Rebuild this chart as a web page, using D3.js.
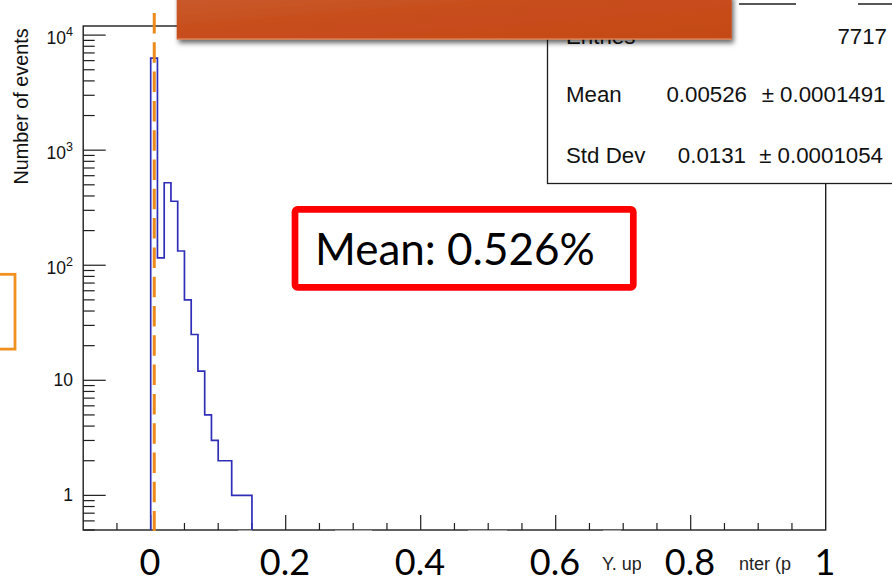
<!DOCTYPE html>
<html>
<head>
<meta charset="utf-8">
<script src="https://cdn.jsdelivr.net/npm/d3@7"></script>
<style>
  html, body { margin: 0; padding: 0; background: #fff; }
  svg { display: block; }
</style>
</head>
<body>
<svg id="chart" width="892" height="583"></svg>
<script>
// Histogram bins (lower/upper edges) and counts
const binEdges = [0, 0.01, 0.02, 0.03, 0.04, 0.05, 0.06, 0.07, 0.08, 0.09, 0.10, 0.11, 0.12, 0.13, 0.14, 0.15];
const binCounts = [6300, 116, 521, 360, 133, 50, 25, 12, 5, 3, 2, 2, 1, 1, 1];

// Statistics box
const statLabels = ["Entries", "Mean", "Std Dev"];
const statValues = ["7717", "0.00526", "0.0131"];
const statErrors = ["", "\u00b1 0.0001491", "\u00b1 0.0001054"];
const meanValue = 0.00526;
const meanText = "Mean: 0.526%";

// Axes
const xDomain = [-0.1, 1.0];
const yDomain = [0.5, 12000];
const xTickValues = [0, 0.2, 0.4, 0.6, 0.8, 1];
const xTickLabels = ["0", "0.2", "0.4", "0.6", "0.8", "1"];
const yDecades = [1, 10, 100, 1000, 10000];
const yTitle = "Number of events";
const xTitleParts = ["Y. up", "nter (p"];

const svg = d3.select("#chart");
const frame = { left: 83.2, right: 825.7, top: 26, bottom: 530 };

const x = d3.scaleLinear().domain(xDomain).range([frame.left, frame.right]);
const y = d3.scaleLog().domain(yDomain).range([frame.bottom, frame.top]);

const rootFont = "'Liberation Sans', Arial, Helvetica, sans-serif";
const slideFont = "Lato, 'Open Sans', sans-serif";
const axisColor = "#1e1e1e";

const defs = svg.append("defs");
const grad = defs.append("linearGradient").attr("id", "bannerFill")
  .attr("x1", "0%").attr("x2", "100%").attr("y1", "0%").attr("y2", "100%");
grad.append("stop").attr("offset", "0%").attr("stop-color", "#c85b2d");
grad.append("stop").attr("offset", "45%").attr("stop-color", "#c84d1b");
grad.append("stop").attr("offset", "100%").attr("stop-color", "#c44a17");
const shadow = defs.append("filter").attr("id", "bannerShadow")
  .attr("x", "-10%").attr("y", "-50%").attr("width", "130%").attr("height", "250%");
shadow.append("feDropShadow").attr("dx", 2).attr("dy", 3.5)
  .attr("stdDeviation", 2.6).attr("flood-color", "#000").attr("flood-opacity", 0.6);

// ---- frame ----
const g = svg.append("g");
g.append("rect")
  .attr("x", frame.left).attr("y", frame.top)
  .attr("width", frame.right - frame.left).attr("height", frame.bottom - frame.top)
  .attr("fill", "none").attr("stroke", axisColor).attr("stroke-width", 1.4);

// ---- x axis ticks (major every 0.2, minor every 0.05) ----
const xMinor = d3.range(-0.05, 1.0, 0.05).map(v => +v.toFixed(2));
g.append("g").selectAll("line").data(xMinor).join("line")
  .attr("x1", d => x(d)).attr("x2", d => x(d))
  .attr("y1", frame.bottom)
  .attr("y2", d => frame.bottom - (Math.abs(d / 0.2 - Math.round(d / 0.2)) < 1e-6 ? 15 : 7))
  .attr("stroke", axisColor).attr("stroke-width", 1.2);

// ---- y axis ticks (log) ----
const yMinor = [];
[0.1, 1, 10, 100, 1000].forEach(dec => {
  for (let k = 2; k <= 9; k++) {
    const v = dec * k;
    if (v >= yDomain[0] && v <= yDomain[1]) yMinor.push(v);
  }
});
g.append("g").selectAll("line").data(yMinor).join("line")
  .attr("x1", frame.left).attr("x2", frame.left + 11.5)
  .attr("y1", d => y(d)).attr("y2", d => y(d))
  .attr("stroke", axisColor).attr("stroke-width", 1.2);
g.append("g").selectAll("line").data(yDecades).join("line")
  .attr("x1", frame.left).attr("x2", frame.left + 22.5)
  .attr("y1", d => y(d)).attr("y2", d => y(d))
  .attr("stroke", axisColor).attr("stroke-width", 1.2);

// y tick labels: 1, 10, 10^2 ...
const yLab = g.append("g").attr("font-family", rootFont).attr("fill", "#111");
yDecades.forEach(v => {
  const e = Math.round(Math.log10(v));
  const t = yLab.append("text")
    .attr("x", 73).attr("y", y(v) + (e >= 2 ? 9 : 6))
    .attr("text-anchor", "end").attr("font-size", 17.5);
  if (e === 0) t.text("1");
  else if (e === 1) t.text("10");
  else {
    t.append("tspan").text("10");
    t.append("tspan").attr("dy", -8).attr("font-size", 12.5).text(String(e));
  }
});

// y title
g.append("text")
  .attr("transform", `translate(28,106.5) rotate(-90)`)
  .attr("text-anchor", "middle")
  .attr("font-family", rootFont).attr("font-size", 19.8).attr("fill", "#111")
  .text(yTitle);

// ---- histogram outline ----
const pts = [[x(binEdges[0]), frame.bottom]];
binCounts.forEach((c, i) => {
  pts.push([x(binEdges[i]), y(c)]);
  pts.push([x(binEdges[i + 1]), y(c)]);
});
pts.push([x(binEdges[binEdges.length - 1]), frame.bottom]);
g.append("path")
  .attr("d", d3.line()(pts))
  .attr("fill", "none").attr("stroke", "#2e2eb8").attr("stroke-width", 1.7);

// ---- mean marker ----
g.append("line")
  .attr("x1", x(meanValue)).attr("x2", x(meanValue))
  .attr("y1", 13).attr("y2", 531)
  .attr("stroke", "#eb8a1a").attr("stroke-width", 3)
  .attr("stroke-dasharray", "20.5 8.8");

// ---- statistics box ----
const stats = svg.append("g").attr("font-family", rootFont).attr("font-size", 22.3).attr("fill", "#111");
stats.append("rect")
  .attr("x", 547.5).attr("y", -20).attr("width", 400).attr("height", 203.5)
  .attr("fill", "#fff").attr("stroke", axisColor).attr("stroke-width", 1.3);
[[739, 796], [858, 892]].forEach(([a, b]) => {
  stats.append("line").attr("x1", a).attr("x2", b).attr("y1", 4).attr("y2", 4)
    .attr("stroke", axisColor).attr("stroke-width", 1.3);
});
const statRowY = [43.5, 102, 162.5];
const statValueX = [887, 747, 746];
const statErrorX = [887, 885.5, 883];
statLabels.forEach((s, i) => {
  stats.append("text").attr("x", 566).attr("y", statRowY[i]).text(s);
  stats.append("text").attr("x", statValueX[i]).attr("y", statRowY[i])
    .attr("text-anchor", "end").text(statValues[i]);
  if (statErrors[i]) {
    stats.append("text").attr("x", statErrorX[i]).attr("y", statRowY[i])
      .attr("text-anchor", "end").text(statErrors[i]);
  }
});

// ---- banner ----
svg.append("rect")
  .attr("x", 176.7).attr("y", -6).attr("width", 555).attr("height", 45.5)
  .attr("fill", "url(#bannerFill)").attr("filter", "url(#bannerShadow)");
svg.append("line")
  .attr("x1", 177).attr("x2", 731.5).attr("y1", 39).attr("y2", 39)
  .attr("stroke", "#e59a72").attr("stroke-width", 1);

// ---- left highlight frame ----
svg.append("rect")
  .attr("x", -20).attr("y", 274.3).attr("width", 35).attr("height", 74.8)
  .attr("fill", "none").attr("stroke", "#ef901f").attr("stroke-width", 2.8);

// ---- mean callout ----
svg.append("rect")
  .attr("x", 295).attr("y", 209.4).attr("width", 338.3).attr("height", 78)
  .attr("rx", 2.5)
  .attr("fill", "#fff").attr("stroke", "#ff0000").attr("stroke-width", 6.7);
svg.append("text")
  .attr("x", 315).attr("y", 264.5)
  .attr("font-family", slideFont).attr("font-size", 44).attr("fill", "#000")
  .text(meanText);

// ---- x axis: lightened stretches of the axis line, title fragments ----
[[238, 252], [335, 372], [468, 507], [603, 621]].forEach(([a, b]) => {
  svg.append("rect").attr("x", a).attr("y", frame.bottom + 0.2)
    .attr("width", b - a).attr("height", 1.2)
    .attr("fill", "#fff").attr("opacity", 0.55);
});
const clips = [[598, 641], [736, 797]];
xTitleParts.forEach((s, i) => {
  defs.append("clipPath").attr("id", "titleClip" + i)
    .append("rect").attr("x", clips[i][0]).attr("y", 540)
    .attr("width", clips[i][1] - clips[i][0]).attr("height", 43);
  svg.append("text")
    .attr("x", i === 0 ? 602 : 739).attr("y", 570)
    .attr("clip-path", `url(#titleClip${i})`)
    .attr("font-family", rootFont).attr("font-size", 18).attr("fill", "#222")
    .text(s);
});

// big x labels
svg.append("g").selectAll("text").data(xTickValues).join("text")
  .attr("x", d => x(d) - 0.7).attr("y", 575)
  .attr("text-anchor", "middle")
  .attr("font-family", slideFont).attr("font-size", 36).attr("fill", "#000")
  .text((d, i) => xTickLabels[i]);
</script>
</body>
</html>
